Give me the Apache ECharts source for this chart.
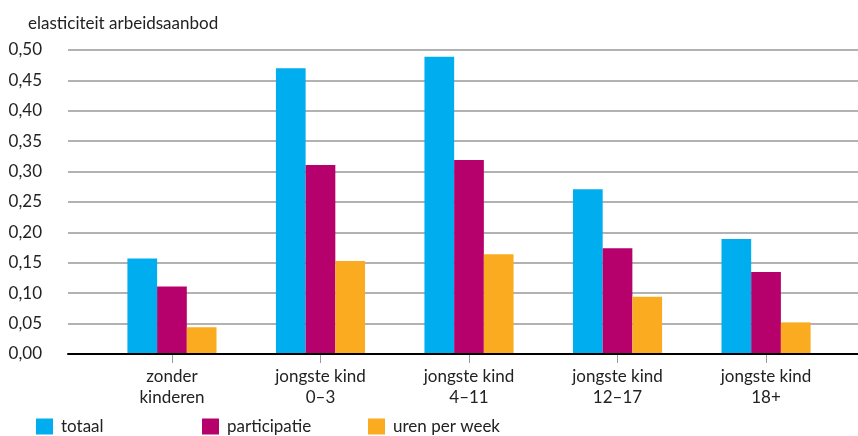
<!DOCTYPE html>
<html>
<head>
<meta charset="utf-8">
<script src="https://cdn.jsdelivr.net/npm/echarts@6/dist/echarts.min.js"></script>
<style>html,body{margin:0;padding:0;background:#fff;}#c{width:858px;height:436px;}</style>
</head>
<body>
<div id="c"></div>
<script>
var categories = ['zonder\nkinderen', 'jongste kind\n0\u20133', 'jongste kind\n4\u201311', 'jongste kind\n12\u201317', 'jongste kind\n18+'];
var seriesNames = ['totaal', 'participatie', 'uren per week'];
var totaal = [0.157, 0.470, 0.489, 0.271, 0.189];
var participatie = [0.111, 0.311, 0.319, 0.174, 0.135];
var urenPerWeek = [0.044, 0.153, 0.164, 0.094, 0.052];
var yTitle = 'elasticiteit arbeidsaanbod';

var colors = ['#00aeef', '#b6006b', '#fbab1f'];
var FONT = 'Lato';
var chart = echarts.init(document.getElementById('c'), null, {renderer: 'canvas'});
var legendLeft = [36, 202, 368];
var legends = seriesNames.map(function (n, i) {
  return {
    data: [n], left: legendLeft[i], top: 418, padding: 0, itemWidth: 17, itemHeight: 16, itemGap: 0,
    icon: 'rect', selectedMode: false,
    textStyle: {fontFamily: FONT, fontSize: 17, color: '#222', lineHeight: 16, padding: [0, 0, 0, 3]}
  };
});
var dataArr = [totaal, participatie, urenPerWeek];
chart.setOption({
  animation: false,
  color: colors,
  title: {text: yTitle, left: 28, top: 15, padding: 0, textStyle: {fontFamily: FONT, fontSize: 17, fontWeight: 'normal', color: '#222'}},
  legend: legends,
  grid: [
    {left: 68, right: 0, top: 50, height: 304},
    {left: 97.7, width: 742.6, top: 50, height: 304}
  ],
  xAxis: [
    {type: 'category', gridIndex: 0, data: [''], axisLine: {show: true, lineStyle: {color: '#000', width: 2}},
     axisTick: {show: false}, axisLabel: {show: false}, z: 5},
    {type: 'category', gridIndex: 1, data: categories, axisLine: {show: false},
     axisTick: {show: true, alignWithLabel: true, length: 9, lineStyle: {color: '#999', width: 1}},
     axisLabel: {fontFamily: FONT, fontSize: 17, color: '#222', lineHeight: 21, margin: 12}}
  ],
  yAxis: [
    {type: 'value', gridIndex: 0, min: 0, max: 0.5, interval: 0.05,
     axisLine: {show: false}, axisTick: {show: false},
     splitLine: {lineStyle: {color: '#999', width: 1.5}},
     axisLabel: {fontFamily: FONT, fontSize: 17, color: '#222', margin: 26,
       formatter: function (v) { return v.toFixed(2).replace('.', ','); }}},
    {type: 'value', gridIndex: 1, min: 0, max: 0.5, interval: 0.05, show: false, splitLine: {show: false}}
  ],
  series: dataArr.map(function (d, i) {
    return {
      name: seriesNames[i], type: 'bar', xAxisIndex: 1, yAxisIndex: 1, data: d,
      barWidth: 29.7, barGap: '0%', z: 3,
      itemStyle: {color: colors[i]}
    };
  })
});
</script>
</body>
</html>
